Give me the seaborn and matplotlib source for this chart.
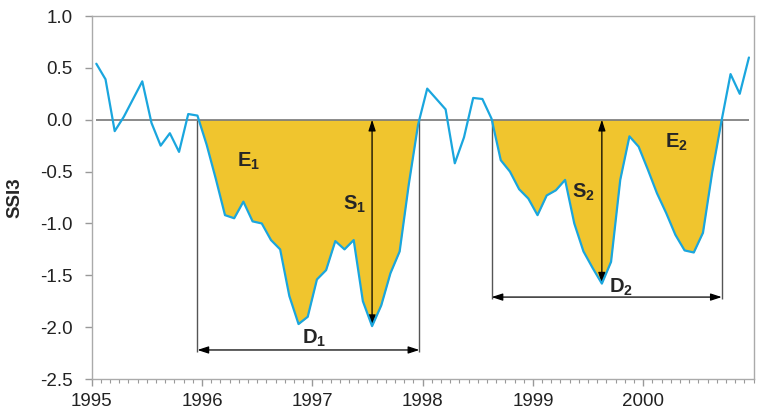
import matplotlib
matplotlib.use("Agg")
import matplotlib.pyplot as plt
from matplotlib.ticker import MultipleLocator, FormatStrFormatter
import seaborn as sns
import numpy as np
import pandas as pd

# monthly SSI3 values, Jan 1995 - Dec 2000
ssi3 = [0.54, 0.39, -0.11, 0.03, 0.20, 0.37, -0.03, -0.25, -0.13, -0.31, 0.055, 0.04,
        -0.24, -0.57, -0.92, -0.95, -0.79, -0.98, -1.00, -1.16, -1.25, -1.70, -1.97, -1.90,
        -1.54, -1.45, -1.17, -1.25, -1.16, -1.75, -1.99, -1.79, -1.48, -1.27, -0.62, -0.05,
        0.30, 0.20, 0.10, -0.42, -0.17, 0.21, 0.20, 0.01, -0.39, -0.50, -0.67, -0.76,
        -0.92, -0.73, -0.68, -0.58, -1.00, -1.27, -1.43, -1.58, -1.37, -0.58, -0.16, -0.26,
        -0.48, -0.71, -0.90, -1.11, -1.26, -1.28, -1.09, -0.51, -0.02, 0.44, 0.25, 0.60]
start_year = 1995

# drought events: first and last month index
event_start = [11, 43]
event_end = [35, 68]
e_labels = [(1996.42, -0.40), (2000.30, -0.22)]
s_labels = [(1997.38, -0.82), (1999.46, -0.70)]
d_labels = [(1997.02, -2.11), (1999.80, -1.62)]
d_levels = [-2.22, -1.71]

df = pd.DataFrame({"t": start_year + (np.arange(len(ssi3)) + 0.5) / 12, "ssi3": ssi3})
t = df["t"].values
y = df["ssi3"].values

sns.set_theme(style="white")
plt.rcParams["font.family"] = ["Liberation Sans", "DejaVu Sans"]
plt.rcParams["mathtext.fontset"] = "custom"
plt.rcParams["mathtext.rm"] = "Liberation Sans"
plt.rcParams["mathtext.bf"] = "Liberation Sans:bold"
plt.rcParams["axes.unicode_minus"] = False

fig = plt.figure(figsize=(7.65, 4.16), dpi=100)
ax = fig.add_axes([0.1199, 0.0889, 0.8651, 0.8726])

fill_col = "#F0C52E"
line_col = "#1AA6DE"
arrow = dict(arrowstyle="<|-|>,head_length=0.55,head_width=0.18",
             color="black", lw=0.9, shrinkA=0, shrinkB=0)

for k in range(len(event_start)):
    s, e = event_start[k], event_end[k]
    # crossing back over zero after the last negative month
    t_end = t[e] + (0 - y[e]) / (y[e + 1] - y[e]) * (t[e + 1] - t[e])
    mask = np.zeros(len(t), bool)
    mask[s:e + 2] = True
    ax.fill_between(t, y, 0, where=mask & (y <= 0), interpolate=True,
                    color=fill_col, lw=0, zorder=1)
    # severity arrow at the minimum
    imin = s + int(np.argmin(y[s:e + 1]))
    ax.annotate("", xy=(t[imin], y[imin]), xytext=(t[imin], 0), arrowprops=arrow, zorder=4)
    # duration
    lev = d_levels[k]
    ax.vlines([t[s], t_end], lev - 0.02, 0, color="#555555", lw=1.0, zorder=2)
    ax.annotate("", xy=(t_end, lev), xytext=(t[s], lev), arrowprops=arrow, zorder=4)
    n = k + 1
    ax.text(*e_labels[k], r"$\mathbf{E_%d}$" % n, fontsize=14.5, ha="center", va="center")
    ax.text(*s_labels[k], r"$\mathbf{S_%d}$" % n, fontsize=14.5, ha="center", va="center")
    ax.text(*d_labels[k], r"$\mathbf{D_%d}$" % n, fontsize=14.5, ha="center", va="center")

ax.hlines(0, t[0], t[-1], color="#777777", lw=1.2, zorder=3)
sns.lineplot(data=df, x="t", y="ssi3", ax=ax, color=line_col, lw=1.6, zorder=5)

ax.set_xlim(1995, 2001)
ax.set_ylim(-2.5, 1.0)
ax.set_xticks([1995, 1996, 1997, 1998, 1999, 2000])
ax.set_xticklabels(["1995", "1996", "1997", "1998", "1999", "2000"])
ax.xaxis.set_minor_locator(MultipleLocator(1 / 12))
ax.yaxis.set_major_locator(MultipleLocator(0.5))
ax.yaxis.set_major_formatter(FormatStrFormatter("%.1f"))
ax.tick_params(axis="both", which="major", direction="out", length=5, width=1,
               color="#999999", labelsize=13.5, labelcolor="#222222")
ax.tick_params(axis="x", which="major", pad=5, bottom=True)
ax.tick_params(axis="y", which="major", pad=9, left=True)
ax.tick_params(axis="x", which="minor", direction="out", length=3, width=0.8,
               color="#999999", bottom=True)
for sp in ax.spines.values():
    sp.set_color("#aaaaaa")
    sp.set_linewidth(1.0)

ax.set_xlabel("")
ax.set_ylabel("SSI3", fontsize=13.5, fontweight="bold", labelpad=12)

fig.savefig("out.png", dpi=100)
